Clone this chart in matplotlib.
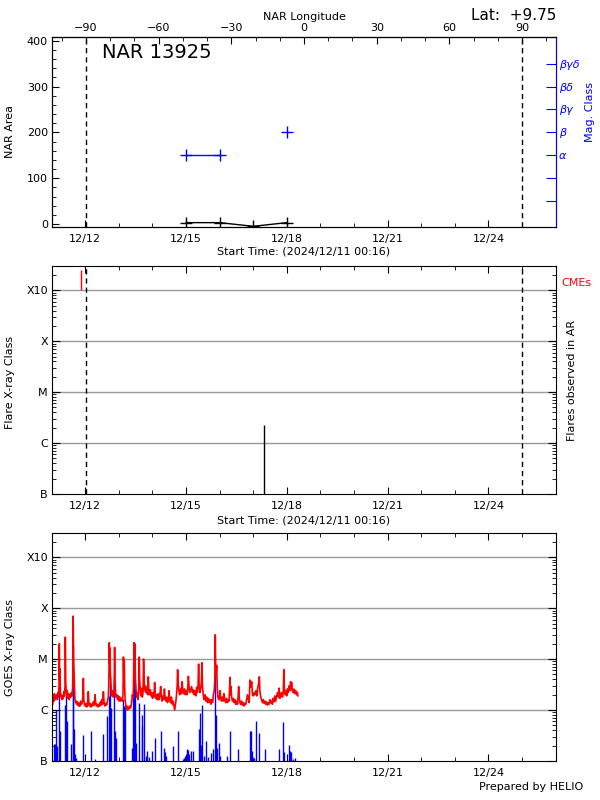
import numpy as np
import pandas as pd
import matplotlib
matplotlib.use('Agg')
import matplotlib.pyplot as plt
import matplotlib.dates as mdates
from matplotlib.ticker import FixedLocator, FixedFormatter, MultipleLocator, LogLocator, NullFormatter

########
# Data #
########

start = pd.Timestamp('2024-12-11 00:16')
window_days = 15
region_name = 'NAR 13925'
latitude = '+9.75'

# NOAA active region daily reports
nar_dates = ['2024-12-15', '2024-12-16', '2024-12-17', '2024-12-18']
nar_area = [3, 3, -5, 3]
nar_mag = ['α', 'α', '', 'β']

mag_ticks = [50, 100, 150, 200, 250, 300, 350]
mag_labels = ['', '', 'α', 'β', 'βγ', 'βδ', 'βγδ']

lon_range = [-104, 104]
lon_ticks = [-90, -60, -30, 0, 30, 60, 90]
limb_lon = [-90, 90]

# flares / CMEs observed in the AR (hours after start, peak flux W/m2)
cme_hours = [20.9]
cme_top = [2.55e-3]
flare_hours = [151.6]
flare_peak = [2.3e-6]

class_levels = [1e-7, 1e-6, 1e-5, 1e-4, 1e-3]
class_labels = ['B', 'C', 'M', 'X', 'X10']

# GOES 1-8 A (hours after start, flux in C units = 1e-6 W/m2)
goes_long_hours = [
    0.0, 0.6, 1.0, 1.4, 1.7, 2.1, 2.5, 2.9, 3.3, 3.8, 4.2, 4.6, 5.0, 5.2, 5.4, 5.7, 6.0, 6.4, 6.8, 7.1,
    7.5, 8.1, 8.5, 8.8, 9.3, 9.5, 9.8, 10.2, 10.6, 10.9, 11.3, 11.7, 12.3, 12.9, 13.4, 13.8, 14.3, 14.8, 15.1, 15.4,
    15.7, 16.1, 16.4, 16.9, 17.3, 17.6, 18.0, 18.4, 18.8, 19.2, 19.6, 20.0, 20.5, 21.0, 21.6, 22.0, 22.4, 22.7, 23.2, 23.6,
    24.2, 24.8, 25.4, 25.9, 26.3, 26.8, 27.3, 27.8, 28.3, 28.9, 29.5, 30.1, 30.7, 31.2, 31.7, 32.3, 32.9, 33.5, 34.0, 34.6,
    35.1, 35.5, 36.0, 36.7, 37.2, 37.8, 38.4, 39.0, 39.6, 40.2, 40.6, 40.9, 41.2, 41.4, 41.7, 41.9, 42.3, 42.6, 43.1, 43.6,
    44.2, 44.5, 44.7, 45.0, 45.4, 45.9, 46.3, 46.8, 47.4, 47.9, 48.4, 49.0, 49.6, 50.2, 50.7, 51.0, 51.3, 51.6, 51.9, 52.2,
    52.6, 53.0, 53.4, 53.9, 54.4, 55.0, 55.6, 56.1, 56.6, 57.1, 57.4, 57.8, 58.2, 58.6, 58.9, 59.2, 59.6, 60.0, 60.5, 60.9,
    61.4, 61.9, 62.3, 62.6, 63.0, 63.5, 64.0, 64.5, 65.0, 65.4, 65.8, 66.2, 66.7, 67.2, 67.8, 68.3, 68.8, 69.2, 69.7, 70.2,
    70.8, 71.3, 71.8, 72.3, 72.8, 73.3, 73.7, 74.2, 74.7, 75.2, 75.8, 76.4, 77.0, 77.6, 78.1, 78.6, 79.2, 79.7, 80.3, 80.8,
    81.4, 81.9, 82.5, 83.1, 83.6, 84.1, 84.7, 85.3, 85.9, 86.5, 87.1, 87.6, 88.2, 88.8, 89.4, 89.7, 90.1, 90.6, 91.2, 91.8,
    92.4, 92.9, 93.4, 94.0, 94.6, 95.2, 95.8, 96.4, 97.0, 97.4, 97.9, 98.4, 99.0, 99.7, 100.3, 100.9, 101.5, 102.1, 102.7, 103.3,
    103.8, 104.3, 104.7, 105.1, 105.6, 106.2, 106.7, 107.1, 107.5, 108.1, 108.7, 109.3, 109.9, 110.5, 111.1, 111.7, 112.3, 112.9, 113.5, 114.1,
    114.7, 115.3, 115.9, 116.3, 116.6, 116.9, 117.2, 117.6, 118.0, 118.5, 119.1, 119.7, 120.0, 120.5, 121.1, 121.7, 122.3, 122.8, 123.4, 124.0,
    124.7, 125.3, 125.9, 126.5, 127.1, 127.5, 127.8, 128.3, 128.9, 129.5, 130.1, 130.7, 131.3, 131.9, 132.5, 133.0, 133.3, 133.7, 134.2, 134.8,
    135.4, 136.0, 136.6, 137.2, 137.8, 138.4, 139.0, 139.6, 140.2, 140.8, 141.4, 142.0, 142.6, 143.2, 143.8, 144.4, 145.0, 145.7, 146.3, 147.0,
    147.6, 148.1, 148.5, 149.1, 149.7, 150.3, 150.9, 151.5, 152.1, 152.7, 153.3, 153.9, 154.5, 155.1, 155.7, 156.2, 156.8, 157.4, 158.0, 158.6,
    159.2, 159.8, 160.4, 161.0, 161.6, 162.2, 162.8, 163.4, 164.0, 164.6, 165.2, 165.6, 166.0, 166.4, 167.0, 167.6, 168.2, 168.7, 169.3, 170.0,
    170.4, 170.8, 171.1, 171.6, 172.3, 172.9, 173.5, 174.1, 174.7, 175.3, 175.6]
goes_long_c = [
    1.2, 1.35, 1.8, 1.5, 2.1, 1.6, 1.9, 1.7, 2.0, 1.6, 2.2, 1.8, 3.0, 20.0, 4.0, 6.5, 2.2, 1.8, 2.0, 1.6,
    1.9, 1.7, 2.3, 1.9, 3.0, 27.0, 3.5, 2.2, 1.8, 2.4, 1.7, 2.1, 1.6, 2.0, 1.8, 2.2, 1.9, 3.0, 70.0, 9.0,
    6.0, 2.5, 1.6, 1.4, 1.5, 1.3, 1.45, 1.25, 1.4, 1.2, 1.35, 1.2, 1.5, 1.3, 1.4, 1.8, 4.2, 1.6, 1.3, 1.2,
    1.35, 1.15, 1.3, 2.3, 1.4, 1.2, 1.35, 1.15, 1.3, 1.2, 1.45, 1.25, 2.0, 1.4, 1.2, 1.3, 1.15, 1.3, 1.2, 1.45,
    1.25, 1.6, 1.3, 2.3, 1.4, 1.2, 1.35, 1.25, 1.5, 1.8, 3.5, 21.0, 8.0, 16.5, 5.0, 4.2, 2.5, 1.9, 2.4, 1.8,
    2.2, 5.0, 17.0, 4.0, 2.2, 1.8, 2.0, 1.6, 1.9, 1.5, 1.8, 1.5, 1.7, 1.5, 2.0, 11.0, 4.5, 9.8, 3.0, 1.6,
    1.3, 1.1, 1.2, 1.0, 1.15, 1.05, 1.2, 1.1, 1.3, 1.6, 2.0, 1.7, 3.0, 21.0, 6.0, 20.0, 3.5, 2.5, 1.8, 2.2,
    1.6, 2.5, 11.0, 4.0, 2.6, 1.9, 2.7, 1.8, 2.2, 10.0, 3.5, 2.4, 3.0, 2.2, 2.8, 2.0, 4.5, 2.4, 2.0, 2.5,
    1.9, 2.2, 1.7, 2.2, 1.8, 3.5, 2.1, 1.7, 2.0, 1.6, 2.1, 1.6, 1.9, 2.9, 1.8, 1.5, 1.9, 1.6, 2.6, 1.7,
    1.5, 1.8, 1.4, 1.6, 2.4, 1.6, 1.4, 1.8, 1.3, 1.5, 1.2, 1.0, 1.3, 1.8, 3.0, 6.2, 3.5, 2.4, 2.0, 2.6,
    2.1, 3.6, 2.5, 2.1, 2.6, 2.0, 2.4, 2.0, 2.7, 4.6, 2.8, 2.2, 2.5, 2.9, 2.2, 2.5, 2.0, 2.4, 1.9, 2.8,
    2.2, 3.0, 8.0, 3.0, 2.2, 2.6, 3.5, 8.5, 2.8, 1.9, 1.6, 2.0, 1.5, 1.8, 1.4, 1.7, 1.4, 1.6, 1.3, 1.6,
    1.4, 2.0, 2.5, 4.0, 30.0, 8.0, 5.0, 7.5, 2.8, 1.8, 1.6, 1.9, 2.4, 1.7, 1.5, 1.8, 1.5, 2.1, 1.6, 1.4,
    1.7, 1.4, 1.6, 1.5, 4.4, 2.0, 2.9, 1.8, 1.5, 1.7, 1.4, 1.6, 1.3, 1.5, 1.3, 2.0, 2.9, 1.8, 1.4, 1.3,
    1.5, 1.25, 1.4, 1.2, 1.35, 1.3, 1.6, 2.0, 1.6, 1.4, 3.9, 2.8, 3.6, 2.0, 1.9, 2.2, 2.0, 2.4, 1.9, 2.8,
    3.3, 4.5, 2.3, 1.8, 1.6, 1.4, 1.6, 1.35, 1.5, 1.3, 1.45, 1.25, 1.4, 1.3, 1.6, 1.4, 1.5, 1.3, 1.7, 1.45,
    1.9, 1.5, 1.8, 2.2, 1.8, 2.7, 1.7, 2.0, 2.2, 1.8, 2.4, 6.2, 2.5, 2.0, 2.4, 1.9, 2.6, 2.2, 3.0, 2.4,
    3.6, 2.6, 3.5, 2.5, 2.2, 2.6, 2.1, 2.4, 2.0, 2.2, 1.9]

# GOES 0.5-4 A (hours after start, flux in C units)
goes_short_hours = [
    1.4, 2.1, 2.9, 3.8, 5.2, 5.7, 9.5, 10.2, 10.9, 13.8, 14.8, 15.2, 15.7, 16.4, 17.1, 22.4, 27.6, 30.5, 36.7, 39.5,
    40.5, 41.4, 41.9, 44.5, 45.0, 45.7, 50.9, 51.6, 51.9, 57.4, 58.1, 58.8, 59.3, 59.7, 62.1, 64.0, 64.5, 65.5, 67.1, 67.8,
    69.3, 71.2, 73.5, 78.1, 80.0, 80.4, 81.4, 86.6, 90.0, 93.5, 94.5, 95.2, 96.6, 97.3, 98.1, 99.5, 100.4, 105.0, 105.7, 106.4,
    107.3, 108.5, 110.0, 111.4, 113.8, 115.2, 116.6, 117.1, 118.1, 119.2, 119.7, 125.2, 126.9, 132.8, 141.1, 142.1, 143.0, 144.5, 145.7, 148.0,
    152.1, 162.1, 165.2, 165.9, 169.0, 169.7, 170.4, 171.8, 173.3]
goes_short_c = [
    0.22, 0.22, 1.0, 0.2, 3.0, 0.39, 1.27, 2.2, 0.62, 0.22, 3.1, 19.0, 0.43, 0.14, 0.115, 0.33, 0.39, 0.11, 0.34, 0.77,
    1.85, 4.6, 1.09, 3.1, 0.38, 0.28, 1.67, 1.18, 1.18, 0.18, 2.1, 6.5, 4.05, 0.23, 1.37, 0.81, 0.48, 1.33, 0.127, 0.155,
    0.118, 0.155, 0.28, 0.39, 0.18, 0.15, 0.124, 0.2, 0.38, 0.11, 0.113, 0.127, 0.17, 0.167, 0.137, 0.16, 0.16, 0.43, 0.87, 0.21,
    1.27, 0.124, 0.25, 0.12, 0.146, 0.17, 7.0, 0.81, 0.18, 0.226, 0.124, 0.124, 0.39, 0.17, 0.39, 0.39, 0.155, 0.113, 0.62, 0.35,
    0.17, 0.175, 0.58, 0.148, 0.21, 0.155, 0.148, 0.108, 0.113]

###########
# Helpers #
###########

t0 = mdates.date2num(start)
t1 = t0 + window_days


def hours_to_time(h):
    return start + pd.to_timedelta(np.asarray(h, dtype=float), unit='h')


def t2lon(t):
    return lon_range[0] + (np.asarray(t) - t0) / (t1 - t0) * (lon_range[1] - lon_range[0])


def lon2t(lon):
    return t0 + (np.asarray(lon) - lon_range[0]) / (lon_range[1] - lon_range[0]) * (t1 - t0)


def style_time_axis(ax, top=True):
    ax.set_xlim(t0, t1)
    ax.xaxis.set_major_locator(mdates.DayLocator(bymonthday=[12, 15, 18, 21, 24]))
    ax.xaxis.set_minor_locator(mdates.DayLocator())
    ax.xaxis.set_major_formatter(mdates.DateFormatter('%m/%d'))
    ax.tick_params(axis='x', which='both', direction='in', top=top, labelsize=8, pad=5)
    ax.tick_params(axis='x', which='major', length=5)
    ax.tick_params(axis='x', which='minor', length=3)


def style_class_axis(ax):
    ax.set_yscale('log')
    ax.set_ylim(class_levels[0], 3e-3)
    ax.yaxis.set_major_locator(FixedLocator(class_levels))
    ax.yaxis.set_major_formatter(FixedFormatter(class_labels))
    ax.yaxis.set_minor_locator(LogLocator(base=10, subs=np.arange(2, 10)))
    ax.yaxis.set_minor_formatter(NullFormatter())
    ax.tick_params(axis='y', which='both', direction='in', right=True, labelsize=8, pad=3)
    ax.tick_params(axis='y', which='major', length=6)
    ax.tick_params(axis='y', which='minor', length=3)
    for lev in class_levels[1:]:
        ax.axhline(lev, color='#999999', lw=1, zorder=0)


def limb_lines(ax):
    for lon in limb_lon:
        ax.axvline(lon2t(lon), color='black', lw=1, dashes=(3.8, 2.8))


plt.rcParams['font.family'] = 'DejaVu Sans'
fig = plt.figure(figsize=(6, 8), dpi=100)

###################
# Top: NAR panel  #
###################

ax1 = fig.add_axes([0.0867, 0.71625, 0.84, 0.2375])
nar_t = mdates.date2num(pd.to_datetime(nar_dates))
ax1.plot(nar_t, nar_area, color='black', marker='+', ms=9, lw=1)
mag_y = [mag_ticks[mag_labels.index(m)] if m else np.nan for m in nar_mag]
ax1.plot(nar_t, mag_y, color='blue', marker='+', ms=9, lw=1)
limb_lines(ax1)
style_time_axis(ax1, top=False)
ax1.set_ylim(-6.5, 408)
ax1.yaxis.set_major_locator(MultipleLocator(100))
ax1.yaxis.set_minor_locator(MultipleLocator(20))
ax1.tick_params(axis='y', which='both', direction='in', labelsize=8, pad=3)
ax1.tick_params(axis='y', which='major', length=5)
ax1.tick_params(axis='y', which='minor', length=3)
ax1.set_ylabel('NAR Area', fontsize=8)
ax1.yaxis.set_label_coords(-0.073, 0.5)
ax1.set_xlabel('Start Time: (%s)' % start.strftime('%Y/%m/%d %H:%M'), fontsize=8, labelpad=2)
ax1.text(0.099, 0.92, region_name, transform=ax1.transAxes, fontsize=14, va='center')

lon_ax = ax1.secondary_xaxis('top', functions=(t2lon, lon2t))
lon_ax.xaxis.set_major_locator(FixedLocator(lon_ticks))
lon_ax.xaxis.set_minor_locator(MultipleLocator(10))
lon_ax.tick_params(which='both', direction='in', labelsize=8, pad=3)
lon_ax.tick_params(which='major', length=5)
lon_ax.tick_params(which='minor', length=3)
lon_ax.set_xlabel('NAR Longitude', fontsize=8, labelpad=2)

mag_ax = ax1.twinx()
mag_ax.set_ylim(ax1.get_ylim())
mag_ax.yaxis.set_major_locator(FixedLocator(mag_ticks))
mag_ax.yaxis.set_major_formatter(FixedFormatter(mag_labels))
mag_ax.tick_params(axis='y', direction='in', length=7, colors='blue', labelsize=8, pad=2)
for lab in mag_ax.get_yticklabels():
    lab.set_style('italic')
mag_ax.spines['right'].set_color('blue')
mag_ax.set_ylabel('Mag. Class', color='blue', fontsize=8)
mag_ax.yaxis.set_label_coords(1.0575, 0.605)

fig.text(0.928, 0.98, 'Lat:  %s' % latitude, ha='right', va='center', fontsize=11)

######################
# Middle: AR flares  #
######################

ax2 = fig.add_axes([0.0867, 0.3825, 0.84, 0.285])
style_class_axis(ax2)
ax2.vlines(mdates.date2num(hours_to_time(cme_hours)), class_levels[-1], cme_top, color='red', lw=1)
ax2.vlines(mdates.date2num(hours_to_time(flare_hours)), class_levels[0], flare_peak, color='black', lw=1)
limb_lines(ax2)
style_time_axis(ax2)
ax2.set_ylabel('Flare X-ray Class', fontsize=8)
ax2.yaxis.set_label_coords(-0.073, 0.49)
ax2.set_xlabel('Start Time: (%s)' % start.strftime('%Y/%m/%d %H:%M'), fontsize=8, labelpad=3)
ax2.text(1.01, 0.925, 'CMEs', transform=ax2.transAxes, color='red', fontsize=8, ha='left', va='center')
ax2.text(1.032, 0.5, 'Flares observed in AR', transform=ax2.transAxes, rotation=90,
         fontsize=8, ha='center', va='center')

####################
# Bottom: GOES XRS #
####################

ax3 = fig.add_axes([0.0867, 0.04875, 0.84, 0.285])
style_class_axis(ax3)
ax3.vlines(mdates.date2num(hours_to_time(goes_short_hours)), class_levels[0],
           np.array(goes_short_c) * 1e-6, color='blue', lw=1.0)
ax3.plot(mdates.date2num(hours_to_time(goes_long_hours)), np.array(goes_long_c) * 1e-6, color='red', lw=1.2)
style_time_axis(ax3)
ax3.set_ylabel('GOES X-ray Class', fontsize=8)
ax3.yaxis.set_label_coords(-0.073, 0.5)

fig.text(0.972, 0.016, 'Prepared by HELIO', ha='right', va='center', fontsize=8)

fig.savefig('out.png', dpi=100)
